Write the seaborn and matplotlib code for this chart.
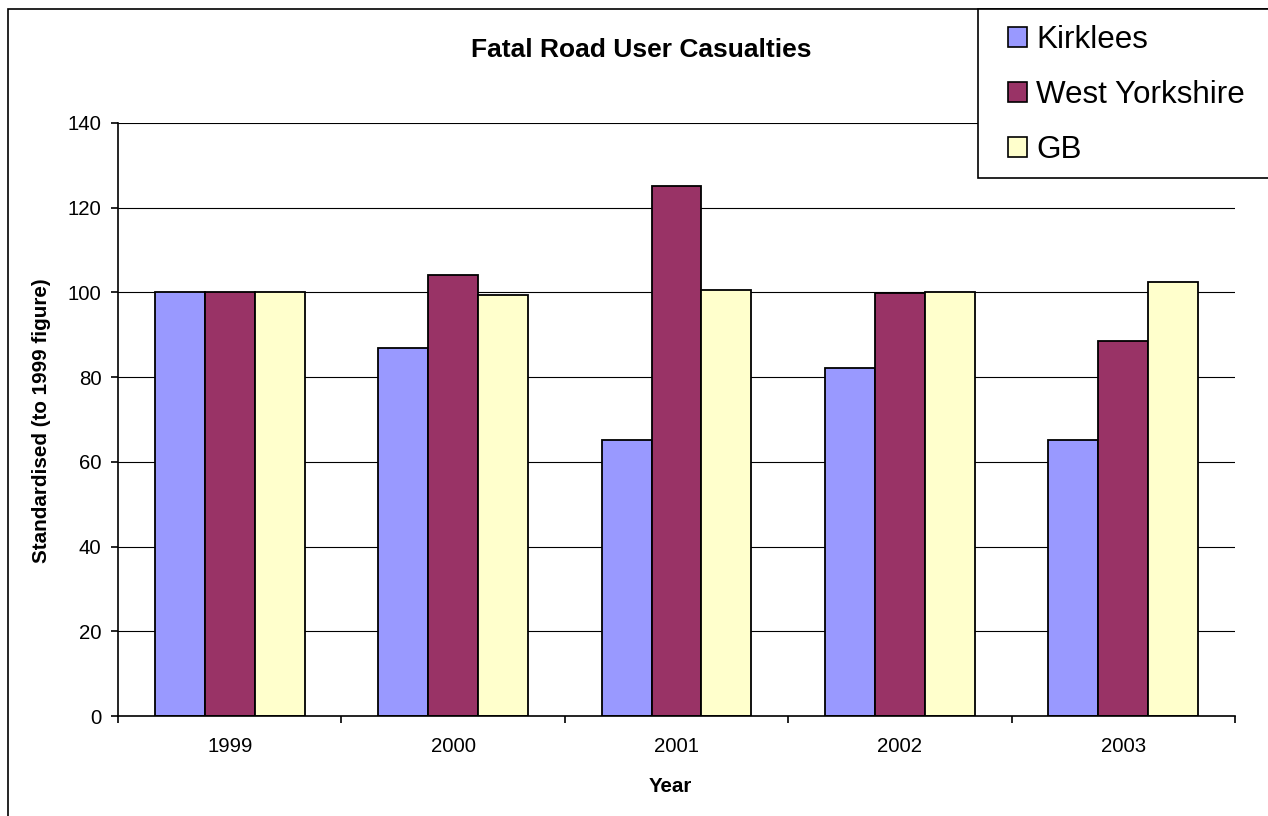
import numpy as np
import pandas as pd
import matplotlib
matplotlib.use('Agg')
import matplotlib.pyplot as plt
from matplotlib.patches import Patch, Rectangle
import seaborn as sns

# Datos (índice 1999 = 100)
anios = ['1999', '2000', '2001', '2002', '2003']
kirklees = [100, 86.9, 65.2, 82.2, 65.2]
west_yorkshire = [100, 104.1, 125.1, 99.8, 88.5]
gb = [100, 99.4, 100.6, 100.1, 102.5]
series = ['Kirklees', 'West Yorkshire', 'GB']
colores = ['#9999FF', '#993366', '#FFFFCC']

sns.set_theme(style='white')
plt.rcParams['font.family'] = ['Liberation Sans', 'DejaVu Sans']
plt.rcParams['text.color'] = 'black'
plt.rcParams['axes.labelcolor'] = 'black'
plt.rcParams['xtick.color'] = 'black'
plt.rcParams['ytick.color'] = 'black'

datos = pd.DataFrame({
    'anio': anios * 3,
    'area': [s for s in series for _ in anios],
    'valor': kirklees + west_yorkshire + gb,
})

W, H = 1268, 816
fig = plt.figure(figsize=(W / 100, H / 100), dpi=100)
ax = fig.add_axes([118 / W, 1 - 716 / H, 1117 / W, 593 / H])

sns.barplot(data=datos, x='anio', y='valor', hue='area', hue_order=series,
            palette=colores, saturation=1, width=0.67, edgecolor='black',
            linewidth=1.3, legend=False, ax=ax)

# Ejes y rejilla
ax.set_xlim(-0.5, 4.5)
ax.set_ylim(0, 140)
ax.set_yticks(range(0, 141, 20))
ax.yaxis.grid(True, color='black', linewidth=0.8)
ax.set_axisbelow(True)
for lado in ['top', 'right']:
    ax.spines[lado].set_visible(False)
for lado in ['left', 'bottom']:
    ax.spines[lado].set_color('black')
    ax.spines[lado].set_linewidth(1.2)

ax.set_xticks(range(len(anios)))
ax.set_xticklabels(anios)
ax.set_xticks(np.arange(-0.5, 5, 1), minor=True)
ax.tick_params(axis='x', which='major', length=0, pad=15, labelsize=14.7)
ax.tick_params(axis='x', which='minor', bottom=True, length=5, width=1.2, direction='out')
ax.tick_params(axis='y', left=True, length=5, width=1.2, direction='out', pad=7,
               labelsize=14.7)

ax.set_xlabel('')
ax.set_ylabel('')
fig.text(670 / W, 1 - 786 / H, 'Year', ha='center', va='center',
         fontsize=14.8, fontweight='bold')
fig.text(42 / W, 1 - 421 / H, 'Standardised (to 1999 figure)', ha='center',
         va='center', rotation=90, fontsize=14.9, fontweight='bold')
fig.text(641 / W, 1 - 50 / H, 'Fatal Road User Casualties', ha='center',
         va='center', fontsize=19, fontweight='bold')

# Marco exterior del gráfico
fig.patches.append(Rectangle((8 / W, -0.1), 1.2, 1 - 9 / H + 0.1, transform=fig.transFigure,
                             fill=False, edgecolor='black', linewidth=1.2))

# Leyenda con marco propio
fig.patches.append(Rectangle((978 / W, 1 - 178 / H), 0.5, 169 / H, transform=fig.transFigure,
                             facecolor='white', edgecolor='black', linewidth=1.2, zorder=5))
manejadores = [Patch(facecolor=c, edgecolor='black', linewidth=1.2) for c in colores]
leyenda = fig.legend(manejadores, series, loc='upper left',
                     bbox_to_anchor=(1008 / W, 1 - 25 / H), frameon=False,
                     fontsize=22.6, handlelength=0.6, handleheight=0.6,
                     handletextpad=0.3, labelspacing=0.8, borderpad=0,
                     borderaxespad=0)
leyenda.set_zorder(6)

fig.savefig('out.png', dpi=100)
